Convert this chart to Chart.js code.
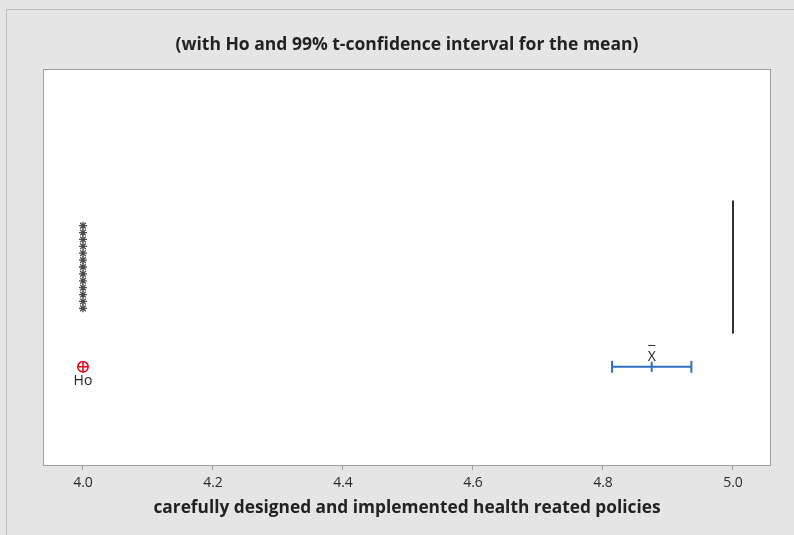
<!DOCTYPE html>
<html>
<head>
<meta charset="utf-8">
<script src="https://cdn.jsdelivr.net/npm/chart.js@4/dist/chart.umd.min.js"></script>
<style>
  html, body { margin: 0; padding: 0; background: #e5e5e5; }
  #wrap { position: relative; width: 794px; height: 535px; }
  canvas { display: block; }
</style>
</head>
<body>
<div id="wrap"><canvas id="c" width="794" height="535"></canvas></div>
<script>
// Axis ticks and labels
const xTickValues = [4.0, 4.2, 4.4, 4.6, 4.8, 5.0];
const chartTitle = '(with Ho and 99% t-confidence interval for the mean)';
const xAxisTitle = 'carefully designed and implemented health reated policies';

// Boxplot summary: quartiles and median all collapse onto 5
const boxQ1 = 5.0;
const boxMedian = 5.0;
const boxQ3 = 5.0;
// Outlying observations (all tied at 4)
const outlierValues = [4, 4, 4, 4, 4, 4, 4, 4, 4, 4, 4, 4, 4];

// Hypothesized mean and 99% t-interval for the mean
const hypothesizedMean = 4.0;
const ciLower = 4.814;
const sampleMean = 4.875;
const ciUpper = 4.936;

// Vertical layout in the hidden 0..1 y range
const boxRow = 0.5;
const boxHalfHeight = 0.168;
const ciRow = 0.248;
const tieStep = 0.0174;

const FONT = '"Open Sans", "Noto Sans", "DejaVu Sans", sans-serif';

// Tied outliers are stacked vertically around the box row
const outlierPoints = outlierValues.map((v, i) => ({
  x: v,
  y: boxRow + (i - (outlierValues.length - 1) / 2) * tieStep
}));

const framePlugin = {
  id: 'frame',
  beforeDraw(chart) {
    const ctx = chart.ctx;
    const a = chart.chartArea;
    ctx.save();
    ctx.fillStyle = '#e5e5e5';
    ctx.fillRect(0, 0, chart.width, chart.height);
    ctx.strokeStyle = '#bdbdbd';
    ctx.lineWidth = 1;
    ctx.beginPath();
    ctx.moveTo(6.5, chart.height);
    ctx.lineTo(6.5, 9.5);
    ctx.lineTo(chart.width, 9.5);
    ctx.stroke();
    ctx.fillStyle = '#ffffff';
    ctx.fillRect(a.left, a.top, a.right - a.left, a.bottom - a.top);
    ctx.restore();
  },
  afterDraw(chart) {
    const ctx = chart.ctx;
    const a = chart.chartArea;
    const xs = chart.scales.x, ys = chart.scales.y;
    ctx.save();
    ctx.strokeStyle = '#a0a0a0';
    ctx.lineWidth = 1;
    ctx.strokeRect(a.left + 0.5, a.top + 0.5, a.right - a.left - 1, a.bottom - a.top);
    ctx.fillStyle = '#222';
    ctx.font = '14px ' + FONT;
    ctx.textAlign = 'center';
    ctx.textBaseline = 'middle';
    // Label under the hypothesized mean marker
    ctx.fillText('Ho', xs.getPixelForValue(hypothesizedMean), ys.getPixelForValue(ciRow) + 14);
    // x-bar label above the sample mean
    const mx = xs.getPixelForValue(sampleMean);
    const my = ys.getPixelForValue(ciRow) - 10;
    ctx.fillText('X', mx, my);
    ctx.fillText('\u00AF', mx, my - 4);
    ctx.restore();
  }
};

new Chart(document.getElementById('c'), {
  type: 'scatter',
  data: {
    datasets: [
      {
        label: 'Outliers',
        data: outlierPoints,
        pointStyle: 'star',
        pointRadius: 4,
        borderColor: '#4a4a4a',
        backgroundColor: '#4a4a4a',
        borderWidth: 1.3,
        showLine: false
      },
      {
        label: 'Box',
        data: [{ x: boxMedian, y: boxRow - boxHalfHeight }, { x: boxMedian, y: boxRow + boxHalfHeight }],
        showLine: true,
        borderColor: '#2e2e2e',
        borderWidth: 2,
        pointRadius: 0
      },
      {
        label: 'CI',
        data: [{ x: ciLower, y: ciRow }, { x: sampleMean, y: ciRow }, { x: ciUpper, y: ciRow }],
        showLine: true,
        borderColor: '#2f6fbf',
        borderWidth: 2,
        pointStyle: 'line',
        rotation: 90,
        pointRadius: [6, 5, 6],
        pointBorderWidth: 2,
        pointBorderColor: '#2f6fbf'
      },
      {
        label: 'Ho circle',
        data: [{ x: hypothesizedMean, y: ciRow }],
        pointStyle: 'circle',
        pointRadius: 5.2,
        borderColor: '#e3001b',
        backgroundColor: 'rgba(0,0,0,0)',
        borderWidth: 1.5
      },
      {
        label: 'Ho cross',
        data: [{ x: hypothesizedMean, y: ciRow }],
        pointStyle: 'cross',
        pointRadius: 5.2,
        borderColor: '#e3001b',
        borderWidth: 1.5
      }
    ]
  },
  options: {
    responsive: false,
    animation: false,
    events: [],
    layout: { padding: { left: 43, right: 23, top: 0, bottom: 0 } },
    plugins: {
      legend: { display: false },
      tooltip: { enabled: false },
      title: {
        display: true,
        text: chartTitle,
        color: '#222',
        font: { family: FONT, size: 17.5, weight: 'bold' },
        padding: { top: 34.5, bottom: 13.5 }
      }
    },
    scales: {
      x: {
        type: 'linear',
        min: 3.9385,
        max: 5.0585,
        afterBuildTicks(scale) {
          scale.ticks = xTickValues.map(v => ({ value: v }));
        },
        afterFit(scale) { scale.height = 70; },
        border: { display: false },
        grid: {
          drawOnChartArea: false,
          drawTicks: true,
          tickLength: 5,
          color: '#a0a0a0'
        },
        ticks: {
          color: '#2a2a2a',
          padding: 5,
          font: { family: FONT, size: 14 },
          callback: v => v.toFixed(1)
        },
        title: {
          display: true,
          text: xAxisTitle,
          color: '#222',
          font: { family: FONT, size: 17.3, weight: 'bold' },
          padding: { top: 0, bottom: 16.5 }
        }
      },
      y: {
        type: 'linear',
        display: false,
        min: 0,
        max: 1
      }
    }
  },
  plugins: [framePlugin]
});
</script>
</body>
</html>
